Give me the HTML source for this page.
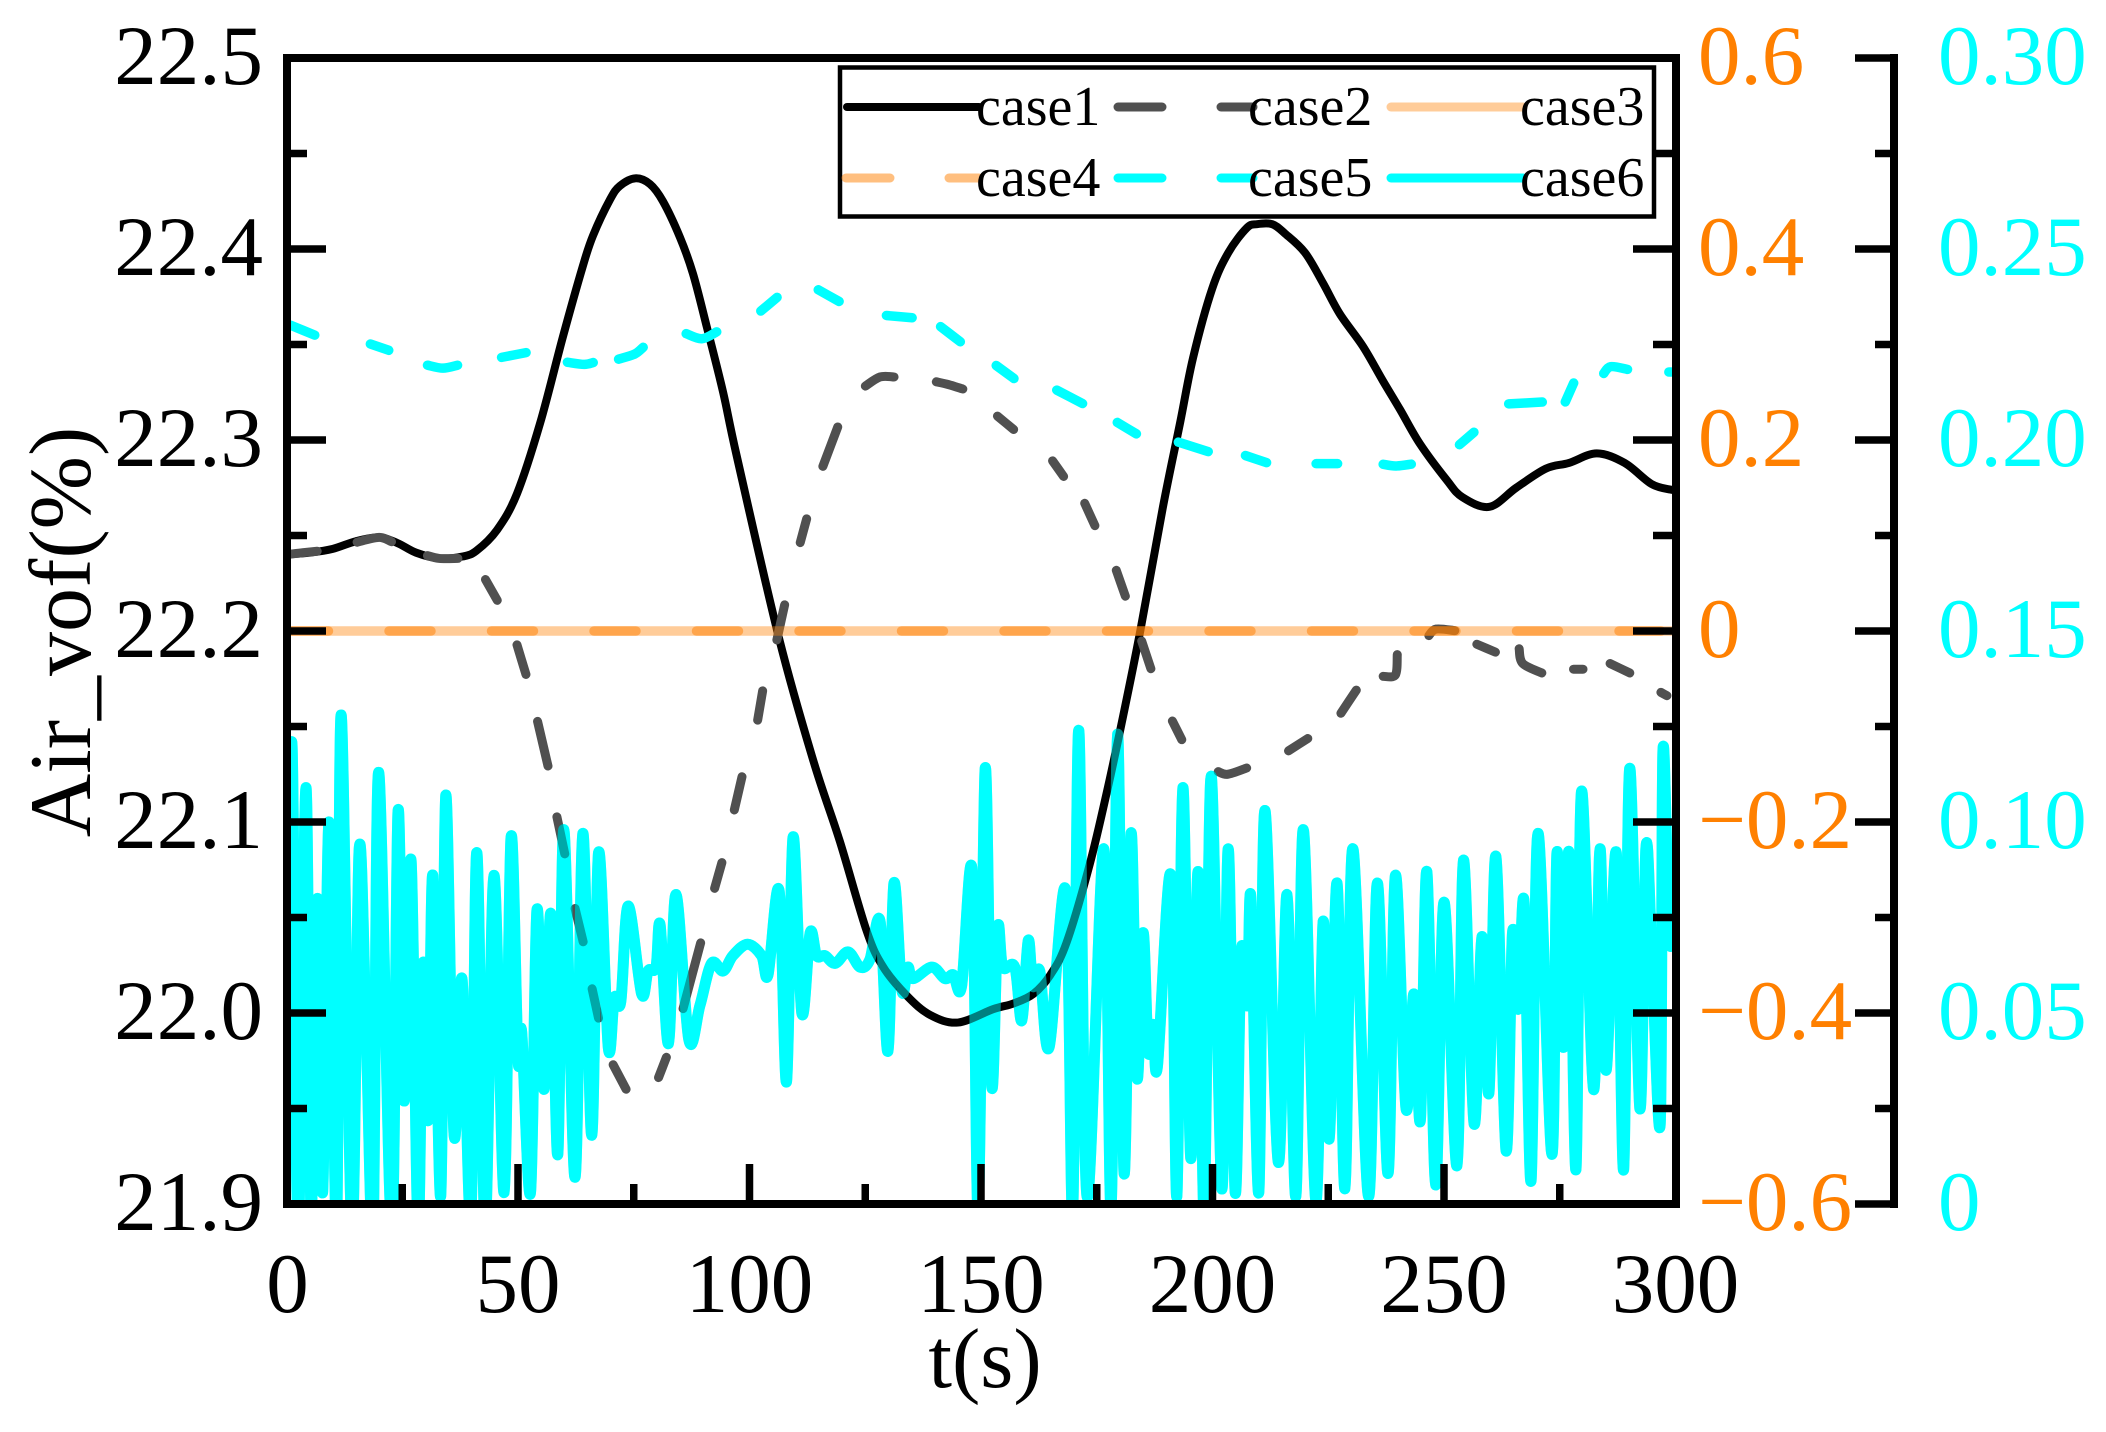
<!DOCTYPE html>
<html lang="en">
<head>
<meta charset="utf-8">
<title>Air_vof(%) vs t(s)</title>
<style>
html,body{margin:0;padding:0;background:#fff;}
svg{display:block;}
text{font-family:"Liberation Serif",serif;}
</style>
</head>
<body>
<svg id="chart" xmlns="http://www.w3.org/2000/svg" width="2106" height="1432" viewBox="0 0 2106 1432">
  <rect x="0" y="0" width="2106" height="1432" fill="#ffffff"/>
  <defs>
    <clipPath id="plot-clip"><rect x="291" y="62" width="1381" height="1138"/></clipPath>
  </defs>
  <g id="series" clip-path="url(#plot-clip)"></g>
  <g id="axes"></g>
  <g>
    <rect x="840" y="67.5" width="814" height="149" fill="#ffffff" stroke="#000000" stroke-width="4.5"/>
    <g>
      <line x1="847" y1="107" x2="979" y2="107" stroke="#000000" stroke-width="8" stroke-linecap="round"/>
      <text x="976" y="125" font-size="56">case1</text>
    </g>
    <g>
      <line x1="1118" y1="107" x2="1253" y2="107" stroke="#505050" stroke-width="9" stroke-linecap="round" stroke-dasharray="44 59"/>
      <text x="1248" y="125" font-size="56">case2</text>
    </g>
    <g>
      <line x1="1391" y1="107" x2="1523" y2="107" stroke="#ff8000" stroke-opacity="0.4" stroke-width="9" stroke-linecap="round"/>
      <text x="1520" y="125" font-size="56">case3</text>
    </g>
    <g>
      <line x1="846" y1="178" x2="979" y2="178" stroke="#ff8000" stroke-opacity="0.5" stroke-width="9" stroke-linecap="round" stroke-dasharray="44 59"/>
      <text x="976" y="196" font-size="56">case4</text>
    </g>
    <g>
      <line x1="1118" y1="178" x2="1253" y2="178" stroke="#00ffff" stroke-width="9" stroke-linecap="round" stroke-dasharray="44 59"/>
      <text x="1248" y="196" font-size="56">case5</text>
    </g>
    <g>
      <line x1="1391" y1="178" x2="1523" y2="178" stroke="#00ffff" stroke-width="9" stroke-linecap="round"/>
      <text x="1520" y="196" font-size="56">case6</text>
    </g>
  </g>
  <text x="985" y="1387" font-size="85" text-anchor="middle">t(s)</text>
  <text transform="translate(90,632) rotate(-90)" font-size="88" text-anchor="middle">Air_vof(%)</text>
</svg>
<script>
// ---- tick labels ----
const xTicks = [0, 50, 100, 150, 200, 250, 300];
const xMinorTicks = [25, 75, 125, 175, 225, 275];
const leftTicks = ["21.9", "22.0", "22.1", "22.2", "22.3", "22.4", "22.5"];
const orangeTicks = ["\u22120.6", "\u22120.4", "\u22120.2", "0", "0.2", "0.4", "0.6"];
const cyanTicks = ["0", "0.05", "0.10", "0.15", "0.20", "0.25", "0.30"];
const leftMinorTicks = [21.95, 22.05, 22.15, 22.25, 22.35, 22.45];

// ---- case1 (left axis) ----
const case1Times = [0, 5, 10, 15, 20, 24, 28, 33, 38, 41, 45.5, 49.8, 54.8, 59.7, 64, 66.2, 69.9, 72, 75.3, 78.5, 81.3, 85, 87.8, 90.8, 94.3, 97.3, 106.4, 113.8, 119.5, 125.3, 128.9, 134, 139, 145, 152.6, 157, 161.3, 165, 168.5, 173.5, 177.4, 180.4, 184.4, 189.3, 193, 195.8, 199.9, 203.4, 207.4, 209.6, 212.9, 215.7, 220, 223.9, 227.5, 232.5, 236.8, 240.5, 244.8, 250.6, 254, 259.8, 265.6, 272, 277, 283, 289, 294.8, 299, 300];
const case1Values = [22.24, 22.241, 22.243, 22.247, 22.249, 22.246, 22.241, 22.238, 22.239, 22.242, 22.253, 22.272, 22.309, 22.354, 22.391, 22.407, 22.426, 22.433, 22.437, 22.434, 22.425, 22.406, 22.387, 22.359, 22.325, 22.291, 22.196, 22.132, 22.09, 22.043, 22.024, 22.009, 21.999, 21.995, 22.002, 22.005, 22.01, 22.02, 22.037, 22.078, 22.118, 22.152, 22.2, 22.265, 22.309, 22.343, 22.379, 22.398, 22.411, 22.413, 22.413, 22.408, 22.398, 22.382, 22.366, 22.349, 22.331, 22.316, 22.298, 22.279, 22.27, 22.265, 22.275, 22.285, 22.288, 22.293, 22.288, 22.277, 22.274, 22.274];

// ---- case2 (left axis) ----
const case2Times = [0, 3.5, 7.6, 14.3, 20, 23.6, 29.5, 33, 38, 42.5, 46, 49.5, 52, 54, 56.7, 58.2, 60.3, 62.1, 64.3, 65.8, 67.6, 70.1, 73.8, 80, 82.4, 85.4, 89.7, 92.2, 94.3, 96.5, 98.6, 101.6, 103, 105.7, 107.8, 110.7, 112.6, 115.5, 119.4, 124.2, 128.2, 132.2, 139.4, 143, 147, 152.8, 157.8, 164.9, 168.4, 172, 175, 178.9, 181.5, 184.4, 187, 190.9, 193.8, 200.3, 203.3, 208.3, 215.6, 221.4, 227.2, 231.6, 235.9, 239.5, 240, 246, 248.3, 253.3, 256.2, 262, 266, 267, 272, 277, 281, 285, 291, 296, 299];
const case2Values = [22.24, 22.241, 22.242, 22.246, 22.249, 22.246, 22.24, 22.238, 22.238, 22.229, 22.214, 22.195, 22.175, 22.155, 22.127, 22.105, 22.081, 22.057, 22.035, 22.015, 21.995, 21.975, 21.958, 21.964, 21.979, 22.0, 22.039, 22.063, 22.081, 22.104, 22.126, 22.151, 22.171, 22.193, 22.216, 22.244, 22.261, 22.284, 22.309, 22.327, 22.333, 22.333, 22.331, 22.329, 22.326, 22.314, 22.304, 22.291, 22.279, 22.269, 22.253, 22.234, 22.216, 22.197, 22.178, 22.155, 22.141, 22.127, 22.125, 22.129, 22.136, 22.145, 22.155, 22.171, 22.176, 22.177, 22.19, 22.196, 22.201, 22.2, 22.194, 22.188, 22.193, 22.183, 22.177, 22.18, 22.18, 22.184, 22.177, 22.169, 22.165];
const case2DashEnds = [7.6, 23.6, 38, 46, 52, 56.7, 60.3, 64.3, 67.6, 73.8, 82.4, 89.7, 94.3, 98.6, 103, 107.8, 112.6, 119.4, 132.2, 147, 157.8, 168.4, 175, 181.5, 187, 193.8, 208.3, 221.4, 231.6, 240, 253.3, 262, 272, 281, 291];

// ---- case3 / case4 (orange axis) ----
const case3Times = [0, 300];
const case3Values = [0, 0];
const case4Times = [0, 300];
const case4Values = [0, 0];

// ---- case5 (cyan axis) ----
const case5Times = [0, 7, 17.2, 23, 29.5, 33.8, 37.9, 45.5, 52.7, 59.7, 64.3, 67.2, 70.8, 75.2, 77.8, 85.4, 89.7, 93.8, 101.7, 106.7, 114, 120.2, 128.6, 136.1, 140.5, 146.3, 152.5, 157.9, 165.5, 172.8, 178.6, 184.4, 191.7, 200, 206.2, 212.6, 221.4, 228, 235.9, 239.5, 243.9, 252.6, 257.2, 263, 272.2, 275.8, 278.4, 283.8, 286, 290.6, 297.6, 300];
const case5Values = [0.2305, 0.227, 0.2255, 0.2231, 0.2198, 0.2188, 0.2198, 0.2214, 0.2231, 0.2205, 0.2198, 0.2205, 0.2208, 0.2225, 0.225, 0.2282, 0.2265, 0.2288, 0.233, 0.2381, 0.2399, 0.2357, 0.2327, 0.2319, 0.2304, 0.225, 0.2202, 0.2154, 0.2136, 0.209, 0.2052, 0.201, 0.1998, 0.1966, 0.1963, 0.1937, 0.1938, 0.1938, 0.1938, 0.1932, 0.1938, 0.198, 0.2028, 0.2094, 0.21, 0.2089, 0.216, 0.2166, 0.2192, 0.2183, 0.2178, 0.2178];
const case5DashEnds = [7, 23, 37.9, 52.7, 67.2, 77.8, 93.8, 106.7, 120.2, 136.1, 146.3, 157.9, 172.8, 184.4, 200, 212.6, 228, 243.9, 257.2, 272.2, 278.4, 290.6];

// ---- case6 (cyan axis) ----
const case6Times = [0.1, 1.2, 2.5, 4.2, 5.3, 6.7, 7.8, 9.2, 10.8, 11.8, 14.1, 15.7, 17.2, 18.7, 19.9, 22.7, 24.1, 25.4, 26.9, 28.4, 29.5, 30.6, 31.6, 33.3, 34.4, 36.2, 37.9, 39.8, 41.1, 42.9, 44.8, 47, 48.5, 50, 50.8, 52.7, 54.1, 55.6, 57.1, 58.6, 59.9, 62.3, 64, 65.9, 67.4, 69.5, 70.8, 72.2, 73.8, 76.7, 78.1, 79.8, 80.7, 82.5, 84.1, 86.9, 89.3, 91.8, 94.3, 96.4, 99.6, 102.6, 104, 106.4, 108, 109.4, 111.3, 113.1, 114.5, 116.3, 118.5, 121.3, 123.9, 126, 128.2, 129.9, 131.2, 132.9, 134.2, 135.3, 139.4, 142.2, 144, 145.8, 148.1, 149.4, 150.9, 152.3, 153.6, 154.7, 157.3, 158.8, 160.2, 161.2, 162.7, 164.7, 168.3, 169.8, 171.1, 172.9, 176.5, 178.1, 179.5, 180.9, 182.4, 183.7, 185, 186.1, 187.2, 188.1, 191, 192.3, 193.6, 195.3, 196.9, 198.2, 199.7, 202, 203.4, 204.9, 206.2, 207.5, 208.3, 210, 211.3, 214.2, 216.1, 218, 219.6, 222.3, 223.9, 225.2, 226.9, 228.6, 230.3, 233.7, 235.6, 237.9, 239.5, 241.8, 243.5, 244.9, 246.3, 248.2, 250, 252.8, 254.2, 256.5, 258.2, 259.7, 261.2, 263.4, 264.8, 266, 267.3, 268.8, 270.3, 273.3, 274.4, 275.8, 277, 278.5, 279.7, 282.3, 283.7, 285, 287.2, 288.8, 290.1, 292.3, 293.6, 294.8, 296.7, 297.3, 298.7, 300];
const case6Values = [0.053, 0.12, -0.007, 0.109, -0.002, 0.08, 0.003, 0.1, -0.007, 0.128, -0.007, 0.093, 0.045, -0.007, 0.113, -0.007, 0.103, 0.027, 0.09, -0.007, 0.063, 0.022, 0.086, 0.002, 0.107, 0.018, 0.059, -0.004, 0.092, -0.005, 0.086, 0.003, 0.096, 0.038, 0.045, 0.003, 0.077, 0.03, 0.076, 0.013, 0.098, 0.007, 0.097, 0.018, 0.092, 0.041, 0.054, 0.053, 0.078, 0.055, 0.061, 0.062, 0.073, 0.042, 0.081, 0.043, 0.052, 0.063, 0.061, 0.065, 0.068, 0.065, 0.06, 0.082, 0.032, 0.096, 0.05, 0.071, 0.065, 0.065, 0.063, 0.066, 0.062, 0.064, 0.074, 0.04, 0.084, 0.056, 0.062, 0.059, 0.062, 0.059, 0.06, 0.057, 0.087, -0.002, 0.114, 0.031, 0.072, 0.062, 0.062, 0.048, 0.069, 0.057, 0.061, 0.041, 0.082, -0.002, 0.124, 0.002, 0.093, -0.001, 0.123, 0.008, 0.097, 0.033, 0.071, 0.04, 0.047, 0.036, 0.086, 0.002, 0.109, 0.012, 0.087, -0.002, 0.112, 0.004, 0.093, 0.003, 0.066, 0.052, 0.08, 0.003, 0.103, 0.011, 0.081, 0.002, 0.098, 0.001, 0.074, 0.017, 0.084, 0.004, 0.093, 0.002, 0.084, 0.008, 0.086, 0.025, 0.055, 0.022, 0.087, 0.005, 0.079, 0.01, 0.09, 0.021, 0.07, 0.029, 0.091, 0.014, 0.071, 0.051, 0.079, 0.006, 0.097, 0.013, 0.092, 0.041, 0.092, 0.009, 0.108, 0.03, 0.093, 0.035, 0.092, 0.009, 0.114, 0.025, 0.093, 0.069, 0.021, 0.119, 0.069, 0.08];

// ---- axis functions ----
const AX_LEFT = 287, AX_RIGHT = 1676, AX_TOP = 58, AX_BOTTOM = 1204, AX_OUTER = 1894;
function xScale(t) { return 286.5 + (t / 300) * 1389; }
function yLeft(v) { return AX_BOTTOM - ((v - 21.9) / 0.6) * (AX_BOTTOM - AX_TOP); }
function yOrange(v) { return AX_BOTTOM - ((v + 0.6) / 1.2) * (AX_BOTTOM - AX_TOP); }
function yCyan(v) { return AX_BOTTOM - (v / 0.3) * (AX_BOTTOM - AX_TOP); }

const NS = 'http://www.w3.org/2000/svg';
function make(tag, attrs, parent) {
  const node = document.createElementNS(NS, tag);
  for (const k in attrs) node.setAttribute(k, attrs[k]);
  parent.appendChild(node);
  return node;
}
function linePath(times, values, yFn) {
  return times.map((t, i) => (i ? 'L' : 'M') + xScale(t).toFixed(2) + ' ' + yFn(values[i]).toFixed(2)).join(' ');
}
function splinePoints(p) {
  let d = 'M' + p[0][0].toFixed(2) + ' ' + p[0][1].toFixed(2);
  for (let i = 0; i < p.length - 1; i++) {
    const a = p[Math.max(i - 1, 0)], b = p[i], c = p[i + 1], e = p[Math.min(i + 2, p.length - 1)];
    const c1x = b[0] + (c[0] - a[0]) / 6, c1y = b[1] + (c[1] - a[1]) / 6;
    const c2x = c[0] - (e[0] - b[0]) / 6, c2y = c[1] - (e[1] - b[1]) / 6;
    d += ' C' + c1x.toFixed(2) + ' ' + c1y.toFixed(2) + ' ' + c2x.toFixed(2) + ' ' + c2y.toFixed(2) + ' ' + c[0].toFixed(2) + ' ' + c[1].toFixed(2);
  }
  return d;
}
function smoothPath(times, values, yFn) {
  return splinePoints(times.map((t, i) => [xScale(t), yFn(values[i])]));
}
// Splits a series at each dash end; pen stays up until the next sample. Ends are
// pulled in by the round-cap radius so the visible dash matches the sampled extent.
function dashedPath(times, values, yFn, dashEnds, capRadius) {
  const runs = [[]];
  times.forEach(function (t, i) {
    runs[runs.length - 1].push([xScale(t), yFn(values[i])]);
    if (dashEnds.indexOf(t) >= 0) runs.push([]);
  });
  function pull(from, to) {
    const dx = to[0] - from[0], dy = to[1] - from[1], len = Math.hypot(dx, dy) || 1;
    const k = Math.min(capRadius, len * 0.4) / len;
    return [from[0] + dx * k, from[1] + dy * k];
  }
  return runs.filter(r => r.length > 1).map(function (r) {
    const q = r.slice();
    q[0] = pull(r[0], r[1]);
    q[q.length - 1] = pull(r[r.length - 1], r[r.length - 2]);
    return splinePoints(q);
  }).join(' ');
}

// ---- series ----
const seriesG = document.getElementById('series');
const baseStyle = { fill: 'none', 'stroke-linecap': 'round', 'stroke-linejoin': 'round' };

let el = make('path', Object.assign({ d: smoothPath(case1Times, case1Values, yLeft), stroke: '#000000', 'stroke-width': 8 }, baseStyle), seriesG);



el = make('path', Object.assign({ d: dashedPath(case2Times, case2Values, yLeft, case2DashEnds, 4.5), stroke: '#505050', 'stroke-width': 9 }, baseStyle), seriesG);



el = make('path', Object.assign({ d: linePath(case3Times, case3Values, yOrange), stroke: '#ff8000', 'stroke-opacity': 0.4, 'stroke-width': 9.5 }, baseStyle), seriesG);



el = make('path', Object.assign({ d: linePath(case4Times, case4Values, yOrange), stroke: '#ff8000', 'stroke-opacity': 0.5, 'stroke-width': 9.5, 'stroke-dasharray': '42 60.5' }, baseStyle), seriesG);



el = make('path', Object.assign({ d: dashedPath(case5Times, case5Values, yCyan, case5DashEnds, 4.5), stroke: '#00ffff', 'stroke-width': 9.5 }, baseStyle), seriesG);



el = make('path', Object.assign({ d: smoothPath(case6Times, case6Values, yCyan), stroke: '#00ffff', 'stroke-opacity': 0.5, 'stroke-width': 11 }, baseStyle), seriesG);



el = make('path', Object.assign({ d: smoothPath(case6Times, case6Values, yCyan), stroke: '#00ffff', 'stroke-width': 11, style: 'mix-blend-mode:multiply' }, baseStyle), seriesG);



// ---- axes ----
const axesG = document.getElementById('axes');
const frame = make('rect', { x: AX_LEFT, y: AX_TOP, width: AX_RIGHT - AX_LEFT, height: AX_BOTTOM - AX_TOP, fill: 'none', stroke: '#000000', 'stroke-width': 8 }, axesG);



const outerAxis = make('line', { x1: AX_OUTER, y1: AX_TOP - 4, x2: AX_OUTER, y2: AX_BOTTOM + 4, stroke: '#000000', 'stroke-width': 8 }, axesG);



function tickLine(x1, y1, x2, y2) {
  return make('line', { x1: x1, y1: y1, x2: x2, y2: y2, stroke: '#000000', 'stroke-width': 7.5 }, axesG);
}
function label(x, y, anchor, fill) {
  return make('text', { x: x, y: y, 'font-size': 85, 'text-anchor': anchor, fill: fill }, axesG);
}

xTicks.forEach(function (t) {
  const x = xScale(t);
  if (t !== 0 && t !== 300) {
    const tick = tickLine(x, AX_BOTTOM, x, AX_BOTTOM - 40);
    
    
  }
  const lab = label(x + (t === 0 ? 1 : 0), 1312, 'middle', '#000000');
  lab.textContent = String(t);
  
  
});
xMinorTicks.forEach(function (t) {
  const tick = tickLine(xScale(t), AX_BOTTOM, xScale(t), AX_BOTTOM - 20);
  
  
});

leftTicks.forEach(function (s, i) {
  const y = yLeft(parseFloat(s));
  const inner = tickLine(AX_LEFT, y, AX_LEFT + 39, y);
  
  
  const innerR = tickLine(AX_RIGHT, y, AX_RIGHT - 43, y);
  
  
  const outer = tickLine(AX_OUTER, y, AX_OUTER - 39, y);
  
  

  const l1 = label(263, y + 26, 'end', '#000000');
  l1.textContent = s;
  
  

  const l2 = label(1698, y + 26, 'start', '#ff8000');
  l2.textContent = orangeTicks[i];
  
  

  const l3 = label(1938, y + 26, 'start', '#00ffff');
  l3.textContent = cyanTicks[i];
  
  
});

leftMinorTicks.forEach(function (v) {
  const y = yLeft(v);
  const a = tickLine(AX_LEFT, y, AX_LEFT + 20, y);
  
  
  const b = tickLine(AX_RIGHT, y, AX_RIGHT - 23, y);
  
  
  const c = tickLine(AX_OUTER, y, AX_OUTER - 19, y);
  
  
});
</script>
</body>
</html>
